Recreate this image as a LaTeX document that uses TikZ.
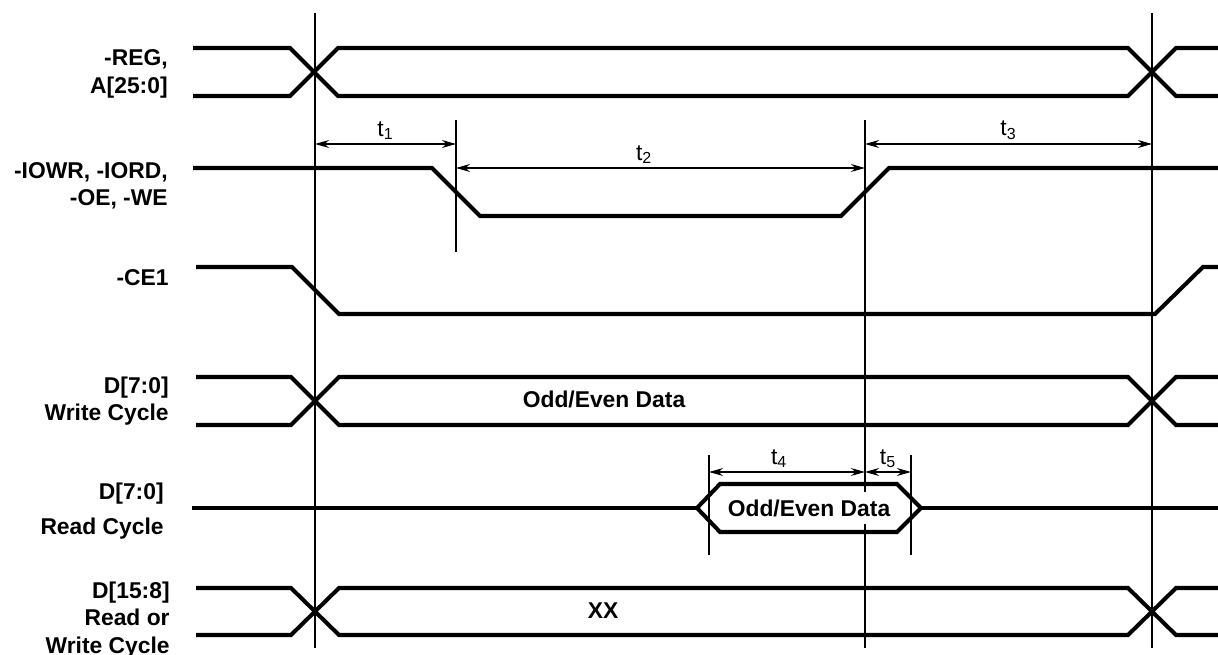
\documentclass[tikz,border=0pt]{standalone}
\usepackage{fontspec}
\setmainfont{Liberation Sans}
\usetikzlibrary{arrows.meta}

\begin{document}
\begin{tikzpicture}[x=0.02cm,y=-0.02cm,
        sig/.style={line width=2.3pt, line join=miter},
        guide/.style={line width=0.6pt},
        dim/.style={{Stealth[length=8pt,width=4.5pt]}-{Stealth[length=8pt,width=4.5pt]}, line width=0.6pt},
        lbl/.style={anchor=east, align=right, inner sep=0pt, font=\fontsize{13}{15.5}\selectfont\bfseries},
        tlbl/.style={above, inner sep=2pt, font=\fontsize{13}{15.5}\selectfont},
        data/.style={font=\fontsize{13}{15.5}\selectfont\bfseries}]

        \useasboundingbox (0,0) rectangle (1218,655);

        % guide lines
        \draw[guide] (315,13) -- (315,648);
        \draw[guide] (1152,13) -- (1152,648);
        \draw[guide] (456,120) -- (456,252);
        \draw[guide] (865,120) -- (865,648);
        \draw[guide] (709,455) -- (709,555);
        \draw[guide] (911,455) -- (911,555);

        % signals
        \draw[sig] (193,48) -- (290,48) -- (338,96) -- (1128,96) -- (1176,48) -- (1218,48);
        \draw[sig] (193,96) -- (290,96) -- (338,48) -- (1128,48) -- (1176,96) -- (1218,96);

        \draw[sig] (193,168) -- (432,168) -- (480,216) -- (841,216) -- (889,168) -- (1218,168);

        \draw[sig] (196,267) -- (292,267) -- (339,314) -- (1155,314) -- (1203,267) -- (1218,267);

        \draw[sig] (196,377) -- (291,377) -- (339,425) -- (1128,425) -- (1176,377) -- (1218,377);
        \draw[sig] (196,425) -- (291,425) -- (339,377) -- (1128,377) -- (1176,425) -- (1218,425);

        \draw[sig] (192,508) -- (697,508);
        \draw[sig] (697,508) -- (720,484) -- (897,484) -- (921,508) -- (897,532) -- (720,532) -- cycle;
        \draw[sig] (921,508) -- (1218,508);

        \draw[sig] (196,588) -- (291,588) -- (339,635) -- (1128,635) -- (1176,588) -- (1218,588);
        \draw[sig] (196,635) -- (291,635) -- (339,588) -- (1128,588) -- (1176,635) -- (1218,635);

        % signal names
        \node[lbl] (lreg) at (168,74) {-REG,\\A[25:0]};
        \node[lbl] (lio)  at (168,186) {-IOWR, -IORD,\\-OE, -WE\hspace{3pt}};
        \node[lbl] (lce)  at (169,278) {-CE1};
        \node[lbl] (lwr)  at (169,401) {D[7:0]\\Write Cycle};
        \node[lbl] (lrd)  at (164,511) {D[7:0]\hspace{2pt}\\[4pt]Read Cycle};
        \node[lbl] (lhi)  at (170,620) {D[15:8]\\Read or\\Write Cycle};

        % bus contents
        \node[data] (wdata) at (604,399) {Odd/Even Data};
        \node[data, fill=white, inner xsep=1pt, inner ysep=0pt, minimum height=0.64cm] (rdata) at (809,508) {Odd/Even Data};
        \node[data] (xx) at (603,611) {XX};

        % timing
        \draw[dim] (315,144) -- node[tlbl] (t1) {t\textsubscript{1}} (456,144);
        \draw[dim] (456,168) -- node[tlbl, pos=0.46] (t2) {t\textsubscript{2}} (865,168);
        \draw[dim] (865,144) -- node[tlbl] (t3) {t\textsubscript{3}} (1152,144);
        \draw[dim] (709,472) -- node[tlbl, pos=0.45] (t4) {t\textsubscript{4}} (865,472);
        \draw[dim] (865,472) -- node[tlbl] (t5) {t\textsubscript{5}} (911,472);
\end{tikzpicture}
\end{document}
